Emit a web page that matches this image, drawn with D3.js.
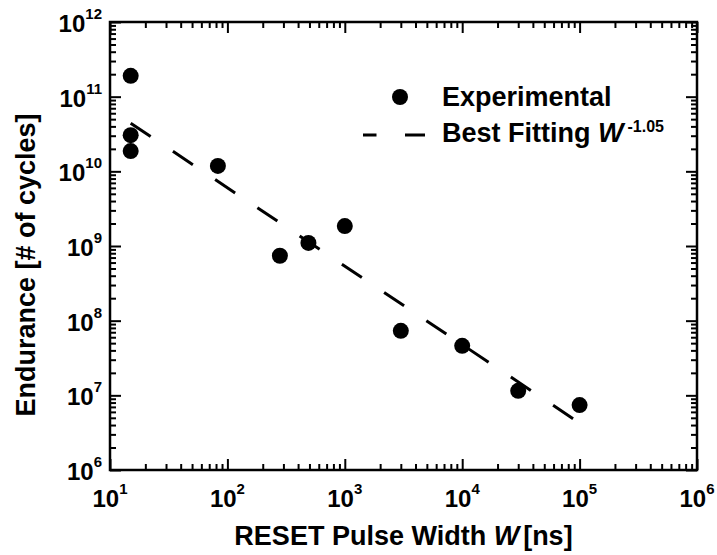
<!DOCTYPE html>
<html>
<head>
<meta charset="utf-8">
<script src="https://cdn.jsdelivr.net/npm/d3@7"></script>
<style>
  html, body { margin: 0; padding: 0; background: #fff; }
  svg text { font-family: "Liberation Sans", Arial, Helvetica, sans-serif; font-weight: bold; fill: #000; }
</style>
</head>
<body>
<svg id="chart" width="717" height="555"></svg>
<script>
// ---- data ----
const pulseWidthNs = [15, 15, 15, 83, 280, 490, 1000, 3000, 10000, 30000, 100000];
const enduranceCycles = [1.9e11, 3.05e10, 1.87e10, 1.18e10, 7.4e8, 1.1e9, 1.85e9, 7.3e7, 4.6e7, 1.15e7, 7.4e6];
const fitWidthNs = [15, 100000];
const fitEndurance = [4.42e10, 4.26e6];
const xTickExponents = [1, 2, 3, 4, 5, 6];
const yTickExponents = [6, 7, 8, 9, 10, 11, 12];
const xTitle = "RESET Pulse Width ";
const yTitle = "Endurance [# of cycles]";
const legendLabels = ["Experimental", "Best Fitting "];
const fitExponentLabel = "-1.05";

// ---- layout ----
const L = 110, R = 697, T = 22, B = 470;
const svg = d3.select("#chart");

const x = d3.scaleLog().domain([1e1, 1e6]).range([L, R]);
const y = d3.scaleLog().domain([1e6, 1e12]).range([B, T]);

const majorX = xTickExponents.map(e => Math.pow(10, e));
const majorY = yTickExponents.map(e => Math.pow(10, e));
function minors(exps) {
  const out = [];
  for (let i = 0; i < exps.length - 1; i++)
    for (let m = 2; m <= 9; m++) out.push(m * Math.pow(10, exps[i]));
  return out;
}
const minorX = minors(xTickExponents);
const minorY = minors(yTickExponents);

function styleAxis(g) {
  g.select(".domain").remove();
  g.selectAll(".tick line").attr("stroke", "#000").attr("stroke-width", 2);
  g.selectAll(".tick text").remove();
}
const MAJ = 11, MIN = 6;
// bottom
svg.append("g").attr("transform", `translate(0,${B})`)
  .call(d3.axisBottom(x).tickValues(majorX).tickSize(-MAJ).tickSizeOuter(0).tickFormat("")).call(styleAxis);
svg.append("g").attr("transform", `translate(0,${B})`)
  .call(d3.axisBottom(x).tickValues(minorX).tickSize(-MIN).tickSizeOuter(0).tickFormat("")).call(styleAxis);
// top
svg.append("g").attr("transform", `translate(0,${T})`)
  .call(d3.axisTop(x).tickValues(majorX).tickSize(-MAJ).tickSizeOuter(0).tickFormat("")).call(styleAxis);
svg.append("g").attr("transform", `translate(0,${T})`)
  .call(d3.axisTop(x).tickValues(minorX).tickSize(-MIN).tickSizeOuter(0).tickFormat("")).call(styleAxis);
// left
svg.append("g").attr("transform", `translate(${L},0)`)
  .call(d3.axisLeft(y).tickValues(majorY).tickSize(-MAJ).tickSizeOuter(0).tickFormat("")).call(styleAxis);
svg.append("g").attr("transform", `translate(${L},0)`)
  .call(d3.axisLeft(y).tickValues(minorY).tickSize(-MIN).tickSizeOuter(0).tickFormat("")).call(styleAxis);
// right
svg.append("g").attr("transform", `translate(${R},0)`)
  .call(d3.axisRight(y).tickValues(majorY).tickSize(-MAJ).tickSizeOuter(0).tickFormat("")).call(styleAxis);
svg.append("g").attr("transform", `translate(${R},0)`)
  .call(d3.axisRight(y).tickValues(minorY).tickSize(-MIN).tickSizeOuter(0).tickFormat("")).call(styleAxis);

// frame
svg.append("rect").attr("x", L).attr("y", T).attr("width", R - L).attr("height", B - T)
  .attr("fill", "none").attr("stroke", "#000").attr("stroke-width", 2.5);

// tick labels
const xl = svg.append("g").selectAll("text").data(xTickExponents).join("text")
  .attr("x", e => x(Math.pow(10, e))).attr("y", 507)
  .attr("text-anchor", "middle").style("font-size", "24px");
xl.append("tspan").text("10");
xl.append("tspan").attr("dy", -13).style("font-size", "15px").text(e => e);

const yl = svg.append("g").selectAll("text").data(yTickExponents).join("text")
  .attr("x", 102).attr("y", e => y(Math.pow(10, e)) + 10)
  .attr("text-anchor", "end").style("font-size", "24px");
yl.append("tspan").text("10");
yl.append("tspan").attr("dy", -13).style("font-size", "15px").text(e => e);

// axis titles
const xt = svg.append("text").attr("x", (L + R) / 2).attr("y", 545)
  .attr("text-anchor", "middle").style("font-size", "27px");
xt.append("tspan").text(xTitle);
xt.append("tspan").style("font-style", "italic").text("W");
xt.append("tspan").attr("dx", 4).text("[ns]");

svg.append("text").attr("transform", "translate(35,265) rotate(-90)")
  .attr("text-anchor", "middle").style("font-size", "27px").text(yTitle);

// fit line
const fitData = fitWidthNs.map((w, i) => [w, fitEndurance[i]]);
svg.append("path").datum(fitData)
  .attr("d", d3.line().x(d => x(d[0])).y(d => y(d[1])))
  .attr("fill", "none").attr("stroke", "#000").attr("stroke-width", 3)
  .attr("stroke-dasharray", "24,26.8");

// data points
svg.append("g").selectAll("circle").data(pulseWidthNs.map((w, i) => [w, enduranceCycles[i]])).join("circle")
  .attr("cx", d => x(d[0])).attr("cy", d => y(d[1])).attr("r", 8).attr("fill", "#000");

// legend
const lg = svg.append("g");
lg.append("circle").attr("cx", 400).attr("cy", 97).attr("r", 8).attr("fill", "#000");
lg.append("text").attr("x", 442).attr("y", 106).style("font-size", "27px").text(legendLabels[0]);
lg.append("line").attr("x1", 363).attr("x2", 425).attr("y1", 135).attr("y2", 135)
  .attr("stroke", "#000").attr("stroke-width", 3).attr("stroke-dasharray", "13.5,28.5,20");
const lt = lg.append("text").attr("x", 442).attr("y", 142).style("font-size", "27px");
lt.append("tspan").text(legendLabels[1]);
lt.append("tspan").style("font-style", "italic").text("W");
lt.append("tspan").attr("dx", 4).attr("dy", -10).style("font-size", "16px").text(fitExponentLabel);
</script>
</body>
</html>
